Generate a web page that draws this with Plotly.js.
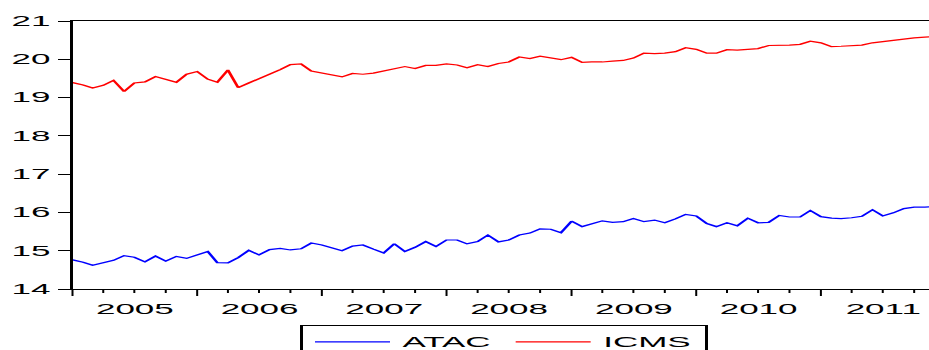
<!DOCTYPE html>
<html>
<head>
<meta charset="utf-8">
<script src="https://cdn.plot.ly/plotly-3.0.1.min.js"></script>
<style>
  html, body { margin: 0; padding: 0; background: #ffffff; }
  #wrap { width: 929px; height: 350px; overflow: hidden; position: relative; background: #ffffff; }
  #plot { width: 380px; height: 365px; transform: scaleX(2.5); transform-origin: 0 0; }
</style>
</head>
<body>
<div id="wrap"><div id="plot"></div></div>
<script>
// Monthly observations, 2005M01 .. 2011M12
const startYear = 2005;
const endYear = 2011;

const atac = [
  14.76, 14.70, 14.62, 14.68, 14.75, 14.87, 14.83, 14.71, 14.86, 14.73, 14.85, 14.80,
  14.89, 14.98, 14.69, 14.68, 14.82, 15.01, 14.89, 15.03, 15.06, 15.02, 15.05, 15.20,
  15.15, 15.07, 15.00, 15.12, 15.15, 15.04, 14.94, 15.18, 14.98, 15.09, 15.24, 15.11,
  15.28, 15.28, 15.18, 15.24, 15.41, 15.23, 15.28, 15.41, 15.46, 15.57, 15.56, 15.47,
  15.77, 15.63, 15.71, 15.78, 15.74, 15.76, 15.84, 15.76, 15.80, 15.73, 15.83, 15.95,
  15.91, 15.71, 15.63, 15.73, 15.65, 15.85, 15.73, 15.74, 15.92, 15.88, 15.88, 16.05,
  15.89, 15.85, 15.84, 15.86, 15.90, 16.07, 15.91, 15.99, 16.10, 16.14, 16.14, 16.15
];

const icms = [
  19.39, 19.33, 19.25, 19.32, 19.45, 19.16, 19.38, 19.41, 19.55, 19.48, 19.40, 19.61,
  19.68, 19.48, 19.40, 19.72, 19.26, 19.38, 19.49, 19.61, 19.73, 19.86, 19.88, 19.69,
  19.64, 19.58, 19.54, 19.63, 19.61, 19.64, 19.69, 19.74, 19.81, 19.76, 19.84, 19.84,
  19.88, 19.85, 19.78, 19.86, 19.81, 19.89, 19.93, 20.06, 20.02, 20.08, 20.04, 19.99,
  20.05, 19.92, 19.93, 19.93, 19.95, 19.97, 20.03, 20.16, 20.15, 20.16, 20.20, 20.30,
  20.26, 20.16, 20.16, 20.25, 20.24, 20.26, 20.28, 20.36, 20.36, 20.37, 20.39, 20.47,
  20.43, 20.33, 20.34, 20.35, 20.37, 20.43, 20.46, 20.50, 20.54, 20.56, 20.58, 20.59
];

const seriesNames = ['ATAC', 'ICMS'];
const seriesColors = ['#0000ff', '#ff0000'];

const months = [];
for (let y = startYear; y <= endYear; y++) {
  for (let m = 1; m <= 12; m++) {
    months.push(y + '-' + (m < 10 ? '0' + m : m) + '-01');
  }
}

const traces = [atac, icms].map((vals, k) => ({
  type: 'scatter',
  mode: 'lines',
  x: months,
  y: vals,
  name: seriesNames[k],
  line: { color: seriesColors[k], width: 1.2 },
  hoverinfo: 'skip'
}));

const font = { family: 'Liberation Sans, Arial, sans-serif', size: 14, color: '#000000' };

const layout = {
  width: 380,
  height: 365,
  margin: { l: 28.5, r: 5.6, t: 20.5, b: 75.7, pad: 0, autoexpand: false },
  paper_bgcolor: '#ffffff',
  plot_bgcolor: '#ffffff',
  font: font,
  showlegend: true,
  legend: {
    orientation: 'h',
    x: 0.5, xanchor: 'center',
    y: -0.135, yanchor: 'top',
    bordercolor: '#000000', borderwidth: 1,
    font: font,
    bgcolor: '#ffffff'
  },
  xaxis: {
    type: 'date',
    range: [months[0], months[months.length - 1]],
    showgrid: false, zeroline: false,
    showline: true, linecolor: '#000000', linewidth: 1, mirror: true,
    ticks: 'outside', ticklen: 6, tickwidth: 0.8, tickcolor: '#000000',
    dtick: 'M12', tick0: months[0], tickformat: '%Y',
    ticklabelmode: 'period',
    ticklabelshift: -2.3,
    ticklabelstandoff: 1,
    automargin: false,
    minor: { dtick: 'M3', ticks: 'outside', ticklen: 3, tickwidth: 0.8, tickcolor: '#000000', showgrid: false },
    tickfont: font
  },
  yaxis: {
    range: [14, 21],
    dtick: 1,
    showgrid: false, zeroline: false,
    showline: true, linecolor: '#000000', linewidth: 1,
    ticks: 'outside', ticklen: 5, tickwidth: 1, tickcolor: '#000000',
    automargin: false,
    tickfont: font
  }
};

Plotly.newPlot('plot', traces, layout, { staticPlot: true, displayModeBar: false });
</script>
</body>
</html>
